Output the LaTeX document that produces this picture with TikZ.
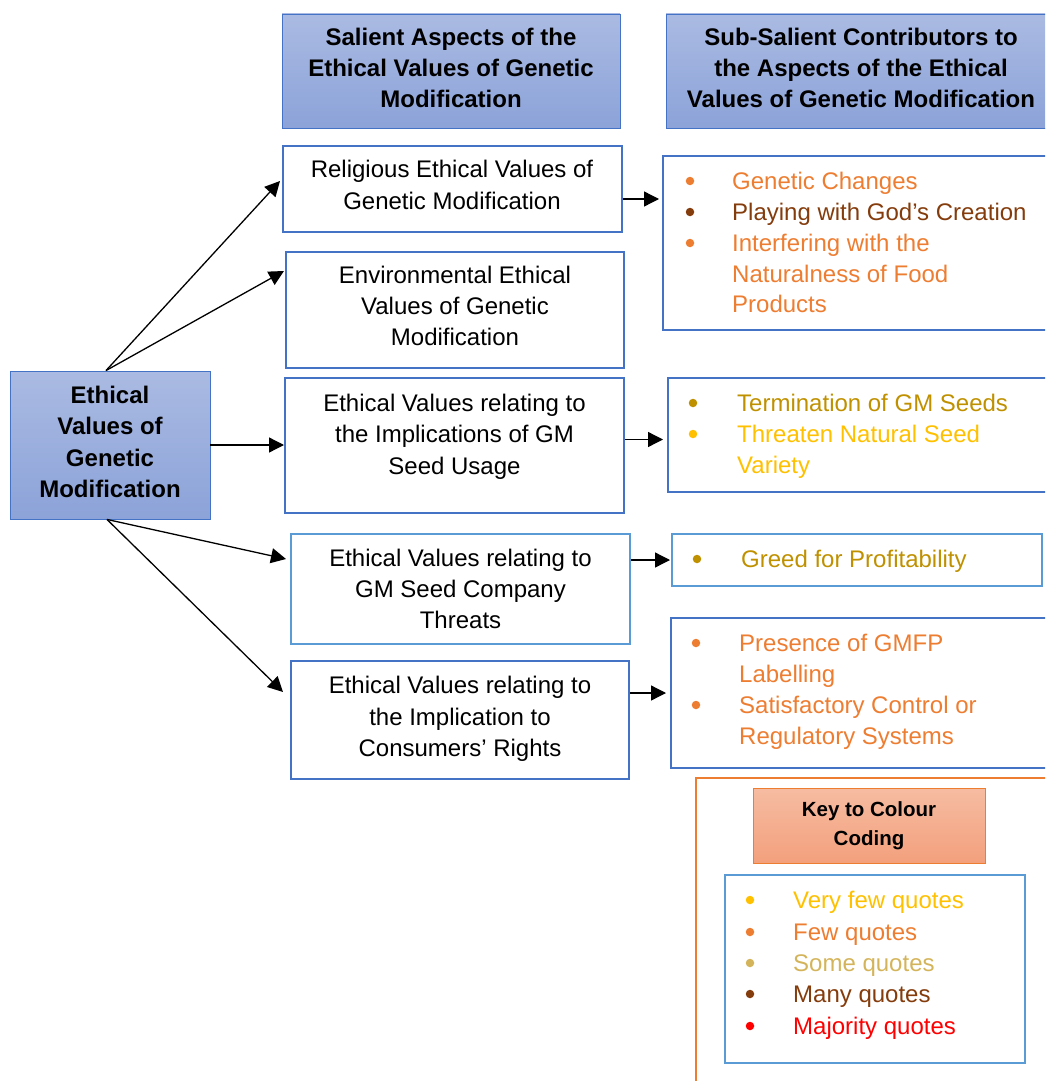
\documentclass[tikz,border=0pt]{standalone}
\usepackage{fontspec}
\setmainfont{Liberation Sans}
\usetikzlibrary{arrows.meta,calc}

\definecolor{hdrtop}{HTML}{AABAE2}
\definecolor{hdrbot}{HTML}{8CA3D9}
\definecolor{boxblue}{HTML}{4472C4}
\definecolor{lightblue}{HTML}{5B9BD5}
\definecolor{fewc}{HTML}{ED7D31}
\definecolor{manyc}{HTML}{843C0C}
\definecolor{goldc}{HTML}{BF9000}
\definecolor{somec}{HTML}{D4B45A}
\definecolor{veryfewc}{HTML}{FFC000}
\definecolor{majc}{HTML}{FF0000}
\definecolor{keytop}{HTML}{F6BCA2}
\definecolor{keybot}{HTML}{F3A07C}

\tikzset{
  bodyfont/.style={font=\fontsize{24}{31.3}\selectfont},
  hdr/.style={draw=boxblue, line width=0.9pt, top color=hdrtop, bottom color=hdrbot, inner sep=0pt},
  hdrtext/.style={font=\bfseries\fontsize{24}{31.3}\selectfont, align=center, inner sep=0pt},
  aspect/.style={draw=boxblue, line width=2pt, fill=white, inner sep=0pt},
  atext/.style={bodyfont, align=center, inner sep=0pt},
  subbox/.style={draw=boxblue, line width=2pt, inner sep=0pt},
  itm/.style={anchor=base west, inner sep=0pt, bodyfont},
  bul/.style={circle, inner sep=0pt, minimum size=8.5pt},
  arr/.style={-{Triangle[length=15pt,width=15pt]}, line width=1.3pt},
}

\begin{document}
\begin{tikzpicture}[x=1pt,y=-1pt]
\useasboundingbox (0,0) rectangle (1045,1081);
\clip (0,0) rectangle (1045,1081);

% column headings
\node[hdr, minimum width=338pt, minimum height=114pt] (h1) at (451,71) {};
\node[hdrtext] (h1t) at (451,68)
  {Salient Aspects of the\\Ethical Values of Genetic\\Modification};
\node[hdr, minimum width=388pt, minimum height=114pt] (h2) at (860,71) {};
\node[hdrtext] (h2t) at (861,68)
  {Sub-Salient Contributors to\\the Aspects of the Ethical\\Values of Genetic Modification};

% central concept
\node[hdr, minimum width=200pt, minimum height=148pt] (root) at (110,445) {};
\node[hdrtext] (roott) at (110,442) {Ethical\\Values of\\Genetic\\Modification};

% salient aspects
\node[aspect, minimum width=339pt, minimum height=86pt] (rel) at (452.5,189) {};
\node[atext] (relt) at (452,185) {Religious Ethical Values of\\Genetic Modification};
\node[aspect, minimum width=338pt, minimum height=116pt] (env) at (455,310) {};
\node[atext] (envt) at (455,306) {Environmental Ethical\\Values of Genetic\\Modification};
\node[aspect, minimum width=339pt, minimum height=135pt] (seed) at (454.5,445.5) {};
\node[atext] (seedt) at (454.5,436.5) {Ethical Values relating to\\the Implications of GM\\Seed Usage};
\node[aspect, draw=lightblue, minimum width=339pt, minimum height=110pt] (comp) at (460.5,589) {};
\node[atext] (compt) at (460.5,589) {Ethical Values relating to\\GM Seed Company\\Threats};
\node[aspect, minimum width=338pt, minimum height=118pt] (cons) at (460,720) {};
\node[atext] (const) at (460,719) {Ethical Values relating to\\the Implication to\\Consumers’ Rights};

% sub-salient boxes
\node[subbox, minimum width=392pt, minimum height=174pt] (sub1) at (859,243) {};
\node[subbox, minimum width=387pt, minimum height=114pt] (sub2) at (861.5,435) {};
\node[subbox, draw=lightblue, minimum width=370pt, minimum height=52pt] (sub3) at (857,560) {};
\node[subbox, minimum width=384pt, minimum height=150pt] (sub4) at (863,693) {};

% religious contributors
\node[bul, fill=fewc]  (b11) at (690,181) {};
\node[bul, fill=manyc] (b12) at (690,212) {};
\node[bul, fill=fewc]  (b13) at (690,243) {};
\node[itm, text=fewc]  (t11) at (732,189) {Genetic Changes};
\node[itm, text=manyc] (t12) at (732,220) {Playing with God’s Creation};
\node[itm, text=fewc]  (t13) at (732,251) {Interfering with the};
\node[itm, text=fewc]  (t14) at (732,282) {Naturalness of Food};
\node[itm, text=fewc]  (t15) at (732,312) {Products};

% seed usage contributors
\node[bul, fill=goldc]    (b21) at (693,403) {};
\node[bul, fill=veryfewc] (b22) at (693,434) {};
\node[itm, text=goldc]    (t21) at (737,411) {Termination of GM Seeds};
\node[itm, text=veryfewc] (t22) at (737,442) {Threaten Natural Seed};
\node[itm, text=veryfewc] (t23) at (737,473) {Variety};

% company contributors
\node[bul, fill=goldc] (b31) at (697,559) {};
\node[itm, text=goldc] (t31) at (741,567) {Greed for Profitability};

% consumer contributors
\node[bul, fill=fewc] (b41) at (696,643) {};
\node[bul, fill=fewc] (b42) at (696,705) {};
\node[itm, text=fewc] (t41) at (739,651) {Presence of GMFP};
\node[itm, text=fewc] (t42) at (739,682) {Labelling};
\node[itm, text=fewc] (t43) at (739,713) {Satisfactory Control or};
\node[itm, text=fewc] (t44) at (739,744) {Regulatory Systems};

% colour key
\draw[draw=fewc, line width=2pt] (696,778) rectangle (1070,1100);
\node[draw=fewc, line width=0.9pt, top color=keytop, bottom color=keybot,
  minimum width=232pt, minimum height=75pt, align=center, inner sep=0pt,
  font=\bfseries\fontsize{20.5}{29}\selectfont] (ktitle) at (869,825.5)
  {Key to Colour\\Coding};
\node[draw=lightblue, line width=2pt, minimum width=300pt, minimum height=188pt,
  inner sep=0pt] (klist) at (875,969) {};
\node[bul, fill=veryfewc] (k1) at (750,900) {};
\node[bul, fill=fewc]     (k2) at (750,932) {};
\node[bul, fill=somec]    (k3) at (750,963) {};
\node[bul, fill=manyc]    (k4) at (750,994) {};
\node[bul, fill=majc]     (k5) at (750,1026) {};
\node[itm, text=veryfewc] (kt1) at (793,908) {Very few quotes};
\node[itm, text=fewc]     (kt2) at (793,940) {Few quotes};
\node[itm, text=somec]    (kt3) at (793,971) {Some quotes};
\node[itm, text=manyc]    (kt4) at (793,1002) {Many quotes};
\node[itm, text=majc]     (kt5) at (793,1034) {Majority quotes};

% connectors from the central concept
\draw[arr] ([xshift=-4pt]root.north) -- ([yshift=8pt, xshift=-2pt]rel.west);
\draw[arr] ([xshift=-4pt]root.north) -- ([yshift=-20pt, xshift=-1pt]env.north west);
\draw[arr] (root.east) -- (root.east -| seed.west);
\draw[arr] ([xshift=-3pt]root.south) -- ([yshift=-26pt, xshift=-4pt]comp.north west);
\draw[arr] ([xshift=-3pt]root.south) -- ([yshift=-32pt, xshift=-7pt]cons.north west);

% connectors to the contributors
\draw[arr, shorten >=3pt] ([yshift=-10pt]rel.east) -- ([yshift=-10pt]rel.east -| sub1.west);
\draw[arr, shorten >=4pt] ([yshift=6pt]seed.east) -- ([yshift=6pt]seed.east -| sub2.west);
\draw[arr, shorten >=1pt] (sub3.west -| comp.east) -- (sub3.west);
\draw[arr, shorten >=4pt] (sub4.west -| cons.east) -- (sub4.west);
\end{tikzpicture}
\end{document}
